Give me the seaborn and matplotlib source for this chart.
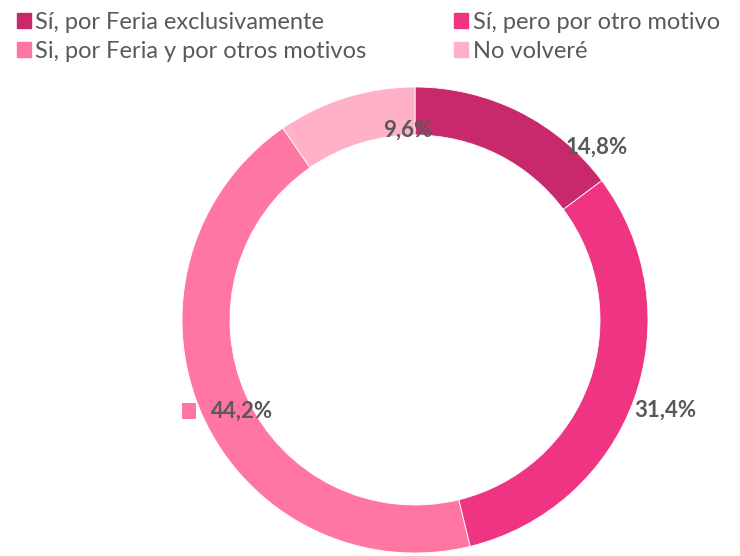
import matplotlib
matplotlib.use("Agg")
import matplotlib.pyplot as plt
import matplotlib.patches as mpatches
import seaborn as sns

categories = ["Sí, por Feria exclusivamente", "Sí, pero por otro motivo",
              "Si, por Feria y por otros motivos", "No volveré"]
values = [14.8, 31.4, 44.2, 9.6]
colors = ["#C8296D", "#EF3484", "#FF76A2", "#FFB1C7"]
pct_labels = ["14,8%", "31,4%", "44,2%", "9,6%"]

sns.set_theme(style="white")
plt.rcParams["font.family"] = ["Lato", "DejaVu Sans"]
GREY = "#595959"

W, H = 740, 556
fig = plt.figure(figsize=(W / 100, H / 100), dpi=100)
ax = fig.add_axes([0, 0, 1, 1])

cx, cy, r = 415, H - 320, 233
wedges, _ = ax.pie(values, colors=colors, startangle=90, counterclock=False,
                   center=(cx, cy), radius=r,
                   wedgeprops=dict(width=48, edgecolor="white", linewidth=0.6))
ax.set_xlim(0, W)
ax.set_ylim(0, H)
ax.set_aspect("equal")
ax.axis("off")

# data label placement (Excel "best fit" offsets from the centre, px)
label_offsets = [(182, 173), (250, -90), (-173, -91), (-7, 190)]
for txt, (dx, dy) in zip(pct_labels, label_offsets):
    ax.text(cx + dx, cy + dy, txt, ha="center", va="center",
            fontsize=16, color=GREY, fontweight="bold")
# legend-key square that Excel leaves next to the 44,2% label
ax.add_patch(mpatches.Rectangle((cx - 233, cy - 99), 14, 16, color=colors[2], lw=0))

# legend is filled row by row in the reference -> reorder for column-major fill
order = [0, 2, 1, 3]
handles = [mpatches.Patch(color=colors[i]) for i in order]
labels = [categories[i] for i in order]
fig.legend(handles, labels, ncol=2, loc="upper left",
           bbox_to_anchor=(0.008, 0.998), frameon=False,
           fontsize=17, labelcolor=GREY, handlelength=0.6, handleheight=0.6,
           handletextpad=0.2, labelspacing=0.33, columnspacing=3.7,
           borderaxespad=0.05)

fig.savefig("out.png", dpi=100)
